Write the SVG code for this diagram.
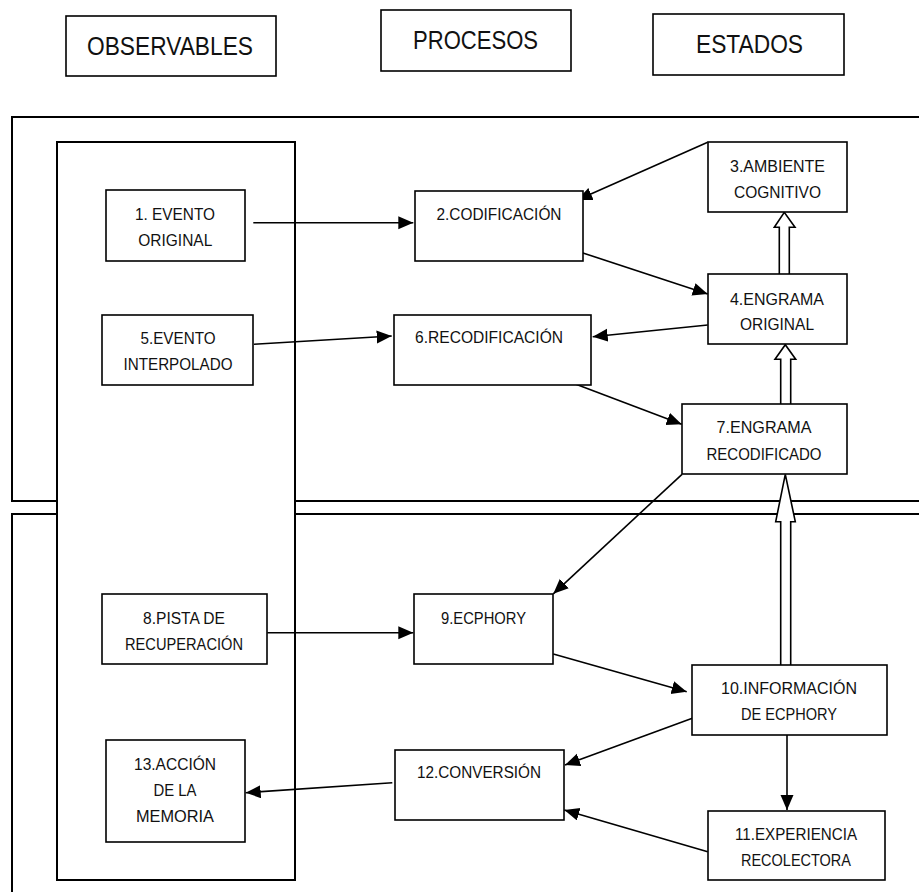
<svg xmlns="http://www.w3.org/2000/svg" width="919" height="892" viewBox="0 0 919 892">
  <style>
    .box { fill: #fff; stroke: #000; stroke-width: 1.6; }
    .frame { fill: none; stroke: #000; stroke-width: 2; }
    .col { fill: #fff; stroke: #000; stroke-width: 2; }
    .t { font-family: "Liberation Sans", Arial, sans-serif; font-size: 16px; fill: #111; text-anchor: middle; }
    .h { font-family: "Liberation Sans", Arial, sans-serif; font-size: 25px; fill: #111; text-anchor: middle; }
    .arr { stroke: #000; stroke-width: 1.6; fill: none; marker-end: url(#head); }
    .hollow { fill: #fff; stroke: #000; stroke-width: 1.6; stroke-linejoin: miter; }
  </style>
  <defs>
    <marker id="head" markerUnits="userSpaceOnUse" markerWidth="16" markerHeight="14" refX="15" refY="6.5" orient="auto">
      <path d="M0,0 L15,6.5 L0,13 Z" fill="#000"/>
    </marker>
  </defs>

  <rect width="919" height="892" fill="#fff"/>

  <!-- column headings -->
  <g id="h-observables">
    <rect class="box" x="66" y="16" width="210" height="60"/>
    <text class="h" x="170" y="55" textLength="166" lengthAdjust="spacingAndGlyphs">OBSERVABLES</text>
  </g>
  <g id="h-procesos">
    <rect class="box" x="381" y="10" width="190" height="61"/>
    <text class="h" x="475.5" y="49.3" textLength="125" lengthAdjust="spacingAndGlyphs">PROCESOS</text>
  </g>
  <g id="h-estados">
    <rect class="box" x="653" y="14" width="191" height="61"/>
    <text class="h" x="749.5" y="53.3" textLength="107" lengthAdjust="spacingAndGlyphs">ESTADOS</text>
  </g>

  <!-- stage frames (encoding above, retrieval below) -->
  <g id="frames">
    <path class="frame" d="M925 117 H12 V501 H925"/>
    <path class="frame" d="M925 514 H12 V900"/>
  </g>

  <!-- observables column -->
  <g id="col-observables">
    <rect class="col" x="57" y="142" width="238" height="738"/>
  </g>

  <!-- connectors -->
  <g id="connectors">
    <line class="arr" x1="253.3" y1="222.7" x2="413.3" y2="222.7"/>
    <line class="arr" x1="254" y1="344.3" x2="391.7" y2="336"/>
    <line class="arr" x1="707.7" y1="142.3" x2="577.3" y2="200"/>
    <line class="arr" x1="576" y1="250.7" x2="707.7" y2="294"/>
    <line class="arr" x1="707.7" y1="325" x2="592.7" y2="336.7"/>
    <line class="arr" x1="576" y1="384.3" x2="681.7" y2="424.3"/>
    <line class="arr" x1="682" y1="474.3" x2="553.3" y2="593.8"/>
    <line class="arr" x1="267.3" y1="632.7" x2="413.3" y2="632.7"/>
    <line class="arr" x1="553.3" y1="654" x2="686.7" y2="691.7"/>
    <line class="arr" x1="692.3" y1="718.3" x2="565" y2="765"/>
    <line class="arr" x1="787" y1="735" x2="787" y2="810"/>
    <line class="arr" x1="707.7" y1="851.7" x2="564.3" y2="810"/>
    <line class="arr" x1="392.3" y1="782.7" x2="245.7" y2="792.7"/>
    <!-- hollow block arrows between states -->
    <path class="hollow" d="M779.3 274.3 V227.3 H774.3 L784.3 212.3 L795 227.3 H789.3 V274.3"/>
    <path class="hollow" d="M780.7 404.3 V359.3 H775 L785.3 344.7 L795.7 359.3 H790.7 V404.3"/>
    <path class="hollow" d="M780.7 665 V521.7 H775.7 L785.3 474.3 L795.3 521.7 H790.7 V665"/>
  </g>

  <!-- nodes -->
  <g id="n1">
    <rect class="box" x="106" y="190" width="139" height="71"/>
    <text class="t" x="175" y="220" textLength="80" lengthAdjust="spacingAndGlyphs">1. EVENTO</text>
    <text class="t" x="175.3" y="246" textLength="74" lengthAdjust="spacingAndGlyphs">ORIGINAL</text>
  </g>
  <g id="n2">
    <rect class="box" x="415" y="191" width="168" height="70"/>
    <text class="t" x="499" y="220" textLength="125" lengthAdjust="spacingAndGlyphs">2.CODIFICACIÓN</text>
  </g>
  <g id="n3">
    <rect class="box" x="708" y="142" width="139" height="70"/>
    <text class="t" x="777.5" y="171.7" textLength="95" lengthAdjust="spacingAndGlyphs">3.AMBIENTE</text>
    <text class="t" x="777.5" y="198" textLength="87" lengthAdjust="spacingAndGlyphs">COGNITIVO</text>
  </g>
  <g id="n4">
    <rect class="box" x="708" y="274" width="139" height="70"/>
    <text class="t" x="777" y="305" textLength="94" lengthAdjust="spacingAndGlyphs">4.ENGRAMA</text>
    <text class="t" x="777" y="330" textLength="74" lengthAdjust="spacingAndGlyphs">ORIGINAL</text>
  </g>
  <g id="n5">
    <rect class="box" x="102" y="315" width="151" height="70"/>
    <text class="t" x="178" y="344" textLength="75" lengthAdjust="spacingAndGlyphs">5.EVENTO</text>
    <text class="t" x="178" y="370" textLength="109" lengthAdjust="spacingAndGlyphs">INTERPOLADO</text>
  </g>
  <g id="n6">
    <rect class="box" x="394" y="315" width="197" height="70"/>
    <text class="t" x="489" y="343.3" textLength="148" lengthAdjust="spacingAndGlyphs">6.RECODIFICACIÓN</text>
  </g>
  <g id="n7">
    <rect class="box" x="682" y="404" width="165" height="70"/>
    <text class="t" x="764" y="433.3" textLength="95" lengthAdjust="spacingAndGlyphs">7.ENGRAMA</text>
    <text class="t" x="764" y="460" textLength="115" lengthAdjust="spacingAndGlyphs">RECODIFICADO</text>
  </g>
  <g id="n8">
    <rect class="box" x="102" y="594" width="165" height="70"/>
    <text class="t" x="184" y="624.3" textLength="82" lengthAdjust="spacingAndGlyphs">8.PISTA DE</text>
    <text class="t" x="184" y="650" textLength="118" lengthAdjust="spacingAndGlyphs">RECUPERACIÓN</text>
  </g>
  <g id="n9">
    <rect class="box" x="414" y="594" width="139" height="70"/>
    <text class="t" x="483.5" y="624" textLength="85" lengthAdjust="spacingAndGlyphs">9.ECPHORY</text>
  </g>
  <g id="n10">
    <rect class="box" x="692" y="665" width="195" height="70"/>
    <text class="t" x="789" y="694" textLength="136" lengthAdjust="spacingAndGlyphs">10.INFORMACIÓN</text>
    <text class="t" x="789" y="720" textLength="96" lengthAdjust="spacingAndGlyphs">DE ECPHORY</text>
  </g>
  <g id="n11">
    <rect class="box" x="708" y="811" width="177" height="69"/>
    <text class="t" x="796" y="840" textLength="122" lengthAdjust="spacingAndGlyphs">11.EXPERIENCIA</text>
    <text class="t" x="796" y="865.7" textLength="110" lengthAdjust="spacingAndGlyphs">RECOLECTORA</text>
  </g>
  <g id="n12">
    <rect class="box" x="395" y="750" width="169" height="70"/>
    <text class="t" x="479" y="778.3" textLength="124" lengthAdjust="spacingAndGlyphs">12.CONVERSIÓN</text>
  </g>
  <g id="n13">
    <rect class="box" x="106" y="740" width="139" height="102"/>
    <text class="t" x="175" y="770" textLength="82" lengthAdjust="spacingAndGlyphs">13.ACCIÓN</text>
    <text class="t" x="175" y="795.7" textLength="43" lengthAdjust="spacingAndGlyphs">DE LA</text>
    <text class="t" x="175" y="821.7" textLength="78" lengthAdjust="spacingAndGlyphs">MEMORIA</text>
  </g>
</svg>
